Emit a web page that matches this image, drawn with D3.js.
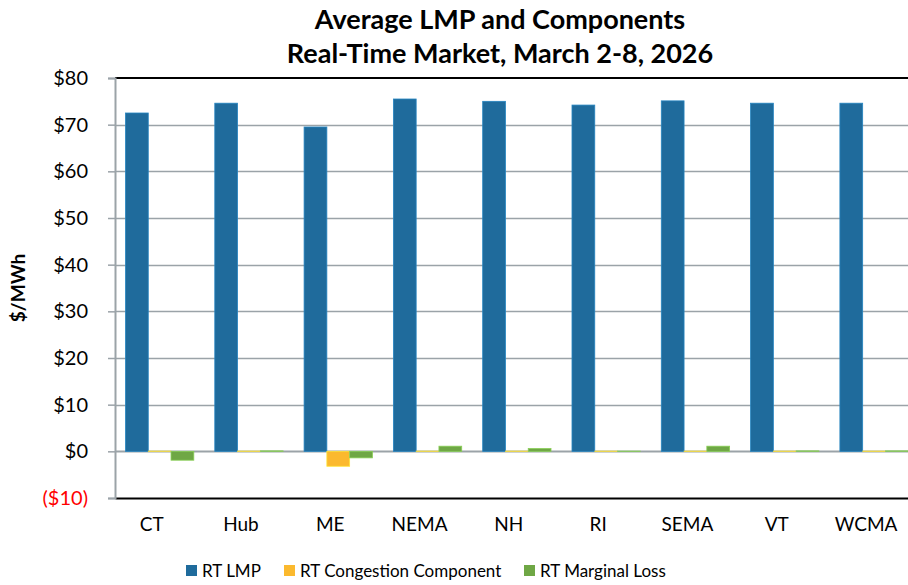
<!DOCTYPE html>
<html>
<head>
<meta charset="utf-8">
<script src="https://cdn.jsdelivr.net/npm/d3@7"></script>
<style>
  body { margin: 0; background: #fff; }
  svg text { font-family: Lato, "Open Sans", sans-serif; fill: #000; }
</style>
</head>
<body>
<svg id="chart"></svg>
<script>
// zones and series ($/MWh)
var zones = ["CT", "Hub", "ME", "NEMA", "NH", "RI", "SEMA", "VT", "WCMA"];
var seriesNames = ["RT LMP", "RT Congestion Component", "RT Marginal Loss"];
var rtLmp = [72.5, 74.6, 69.5, 75.5, 75.0, 74.2, 75.1, 74.6, 74.6];
var rtCongestion = [0.05, 0.05, -3.2, 0.05, 0.05, 0.05, 0.05, 0.05, 0.05];
var rtLoss = [-1.9, 0.1, -1.4, 1.1, 0.6, 0.05, 1.1, 0.1, 0.1];
var yTicks = [-10, 0, 10, 20, 30, 40, 50, 60, 70, 80];

var colors = ["#1f6b9c", "#fbb92e", "#6fa745"];

var width = 908, height = 585;
var margin = {top: 78, right: 0, bottom: 87, left: 115};
var plotW = 9 * 89.3, plotH = height - margin.top - margin.bottom;

var svg = d3.select("#chart")
    .attr("width", width)
    .attr("height", height);

var x = d3.scaleBand()
    .domain(zones)
    .range([0, plotW])
    .paddingInner(0.235)
    .paddingOuter(0.1175);

var xs = d3.scaleBand()
    .domain(seriesNames)
    .range([0, x.bandwidth()]);

var y = d3.scaleLinear()
    .domain([-10, 80])
    .range([plotH, 0]);

var g = svg.append("g")
    .attr("transform", "translate(" + margin.left + "," + margin.top + ")");

// gridlines
g.append("g")
    .selectAll("line")
    .data(yTicks.filter(function(d) { return d > -10 && d < 80; }))
    .enter().append("line")
    .attr("x1", 0)
    .attr("x2", plotW)
    .attr("y1", function(d) { return Math.round(y(d)) + 0.5; })
    .attr("y2", function(d) { return Math.round(y(d)) + 0.5; })
    .style("stroke", "#9ba3a8")
    .style("stroke-width", function(d) { return d === 0 ? 2 : 1.5; });

// bars
var rows = zones.map(function(z, i) {
    return {zone: z, values: [rtLmp[i], rtCongestion[i], rtLoss[i]]};
});

var groups = g.selectAll(".grp")
    .data(rows)
    .enter().append("g")
    .attr("class", "grp")
    .attr("transform", function(d) { return "translate(" + x(d.zone) + ",0)"; });

groups.selectAll("rect")
    .data(function(d) {
        return d.values.map(function(v, k) { return {name: seriesNames[k], value: v, k: k}; });
    })
    .enter().append("rect")
    .attr("x", function(d) { return xs(d.name); })
    .attr("width", xs.bandwidth())
    .attr("y", function(d) { return y(Math.max(0, d.value)); })
    .attr("height", function(d) { return Math.abs(y(d.value) - y(0)); })
    .style("fill", function(d) { return colors[d.k]; })
    .style("stroke", function(d) { return d3.color(colors[d.k]).brighter(0.6); })
    .style("stroke-width", 0.8);

// top border
g.append("line")
    .attr("x1", 0).attr("x2", plotW)
    .attr("y1", 0).attr("y2", 0)
    .style("stroke", "#000").style("stroke-width", 2.2);

var xAxis = d3.axisBottom(x).tickSize(0).tickPadding(20);
var gx = g.append("g")
    .attr("transform", "translate(0," + plotH + ")")
    .call(xAxis);
gx.select(".domain").style("stroke", "#000").style("stroke-width", 2.2);
gx.selectAll("text")
    .attr("dx", -8)
    .style("font-size", "19px")
    .style("font-family", "Lato, sans-serif");

var yAxis = d3.axisLeft(y)
    .tickValues(yTicks)
    .tickSize(7)
    .tickPadding(20)
    .tickFormat(function(d) { return d < 0 ? "($" + Math.abs(d) + ")" : "$" + d; });
var gy = g.append("g").call(yAxis);
gy.select(".domain").style("stroke", "#9ba3a8").style("stroke-width", 2);
gy.selectAll(".tick line").style("stroke", "#9ba3a8").style("stroke-width", 1.5);
gy.selectAll("text")
    .style("font-size", "20px")
    .style("font-family", "Lato, sans-serif")
    .style("fill", function(d) { return d < 0 ? "#ff0000" : "#000"; });

// y label
svg.append("text")
    .attr("transform", "translate(25," + (margin.top + plotH / 2) + ") rotate(-90)")
    .attr("text-anchor", "middle")
    .style("font-size", "19px")
    .style("font-weight", "bold")
    .text("$/MWh");

// title
svg.append("text")
    .attr("x", 500).attr("y", 29)
    .attr("text-anchor", "middle")
    .style("font-size", "27px")
    .style("font-weight", "bold")
    .text("Average LMP and Components");
svg.append("text")
    .attr("x", 500).attr("y", 63)
    .attr("text-anchor", "middle")
    .style("font-size", "27px")
    .style("font-weight", "bold")
    .text("Real-Time Market, March 2-8, 2026");

// legend
var legendX = [186, 284, 524];
var legend = svg.append("g").selectAll("g")
    .data(seriesNames)
    .enter().append("g")
    .attr("transform", function(d, i) { return "translate(" + legendX[i] + ",565)"; });
legend.append("rect")
    .attr("width", 11).attr("height", 11)
    .style("fill", function(d, i) { return colors[i]; });
legend.append("text")
    .attr("x", 16).attr("y", 12)
    .style("font-size", "17px")
    .text(function(d) { return d; });
</script>
</body>
</html>
